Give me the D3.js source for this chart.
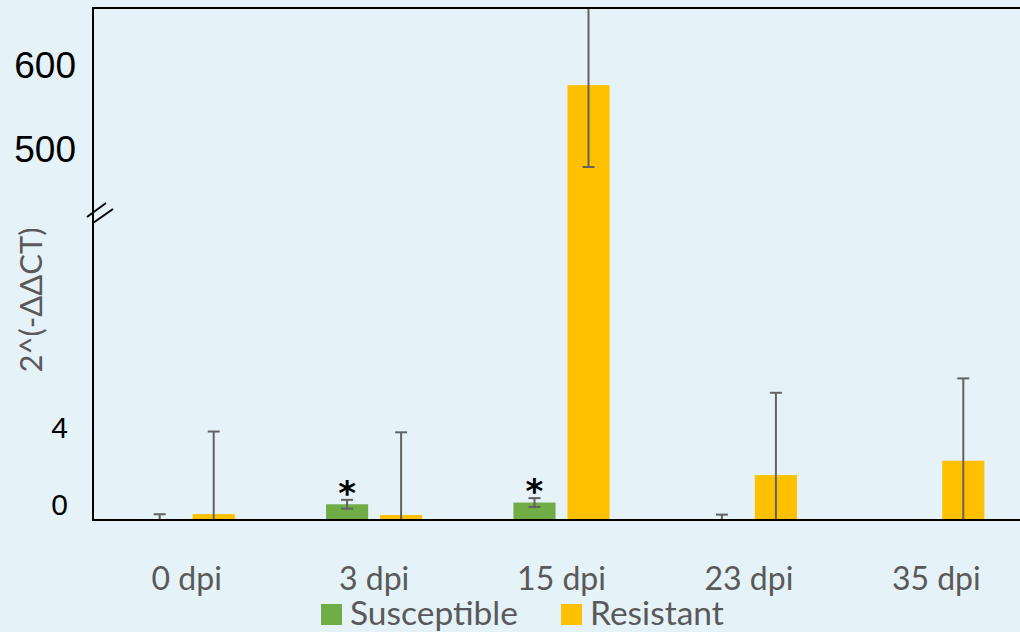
<!DOCTYPE html>
<html>
<head>
<meta charset="utf-8">
<script src="https://cdn.jsdelivr.net/npm/d3@7/dist/d3.min.js"></script>
<style>
  html, body { margin: 0; padding: 0; background: #E5F2F7; }
  svg { display: block; }
</style>
</head>
<body>
<svg id="chart" width="1020" height="632"></svg>
<script>
// Relative expression 2^(-ΔΔCT) by days post inoculation
const categories = ["0 dpi", "3 dpi", "15 dpi", "23 dpi", "35 dpi"];
const seriesNames = ["Susceptible", "Resistant"];
const susceptible = [0.04, 0.82, 0.91, 0.04, 0];
const susceptibleErr = [0.26, 0.23, 0.23, 0.24, 0];
const resistant = [0.31, 0.26, 595.6, 2.34, 3.09];
const resistantErr = [4.3, 4.31, 98, 4.29, 4.29];
const significant = [false, true, true, false, false];
const yTicks = [0, 4, 500, 600];
const yTitle = "2^(-ΔΔCT)";

const colors = { Susceptible: "#70AD47", Resistant: "#FFC000" };

const svg = d3.select("#chart");
const W = 1020, H = 632;
const plotLeft = 93, plotTop = 8, plotBottom = 520, plotRight = 1030, breakY = 213;

svg.append("rect").attr("width", W).attr("height", H).attr("fill", "#E5F2F7");

// Broken value axis: low segment 0–16, high segment 442.5–688
const y = d3.scaleLinear()
  .domain([0, 16, 442.5, 688])
  .range([plotBottom, breakY, breakY, plotTop]);

const x0 = d3.scaleBand().domain(categories).range([plotLeft, plotRight]);
const x1 = d3.scaleBand().domain(seriesNames)
  .range([0, x0.bandwidth()])
  .paddingInner(0.22).paddingOuter(0.845);

const rows = categories.map((c, i) => ({
  cat: c,
  sig: significant[i],
  vals: [
    { s: "Susceptible", v: susceptible[i], e: susceptibleErr[i] },
    { s: "Resistant", v: resistant[i], e: resistantErr[i] }
  ]
}));

svg.append("clipPath").attr("id", "plotClip")
  .append("rect").attr("x", plotLeft).attr("y", plotTop)
  .attr("width", plotRight - plotLeft).attr("height", plotBottom - plotTop);

const plot = svg.append("g").attr("clip-path", "url(#plotClip)");

const groups = plot.selectAll("g.cat").data(rows).join("g")
  .attr("class", "cat")
  .attr("transform", d => `translate(${x0(d.cat)},0)`);

groups.selectAll("rect").data(d => d.vals).join("rect")
  .attr("x", d => x1(d.s))
  .attr("width", x1.bandwidth())
  .attr("y", d => y(d.v))
  .attr("height", d => y(0) - y(d.v))
  .attr("fill", d => colors[d.s]);

// Error bars (±), clipped to the plot area
const capHalf = 6;
const cx = d => x1(d.s) + x1.bandwidth() / 2;
const eb = groups.selectAll("g.err").data(d => d.vals.filter(v => v.e > 0)).join("g")
  .attr("class", "err")
  .attr("stroke", "#626262").attr("stroke-width", 2);
eb.append("line")
  .attr("x1", cx).attr("x2", cx)
  .attr("y1", d => y(Math.max(0, d.v - d.e)))
  .attr("y2", d => y(d.v + d.e));
eb.append("line")
  .attr("x1", d => cx(d) - capHalf).attr("x2", d => cx(d) + capHalf)
  .attr("y1", d => y(d.v + d.e)).attr("y2", d => y(d.v + d.e));
eb.filter(d => d.v - d.e >= 0).append("line")
  .attr("x1", d => cx(d) - capHalf).attr("x2", d => cx(d) + capHalf)
  .attr("y1", d => y(d.v - d.e)).attr("y2", d => y(d.v - d.e));

// Significance markers over the susceptible bars
groups.filter(d => d.sig).append("text")
  .attr("x", x1("Susceptible") + x1.bandwidth() / 2)
  .attr("y", d => y(d.vals[0].v + d.vals[0].e) + 5)
  .attr("text-anchor", "middle")
  .attr("font-family", "DejaVu Sans")
  .attr("font-weight", "bold")
  .attr("font-size", 34)
  .attr("fill", "#000")
  .text("*");

// Axis frame
const frame = svg.append("g").attr("stroke", "#000").attr("stroke-width", 2).attr("fill", "none");
frame.append("line").attr("x1", plotLeft).attr("x2", W).attr("y1", plotTop).attr("y2", plotTop);
frame.append("line").attr("x1", plotLeft).attr("x2", plotLeft).attr("y1", plotTop - 1).attr("y2", plotBottom + 1);
frame.append("line").attr("x1", plotLeft).attr("x2", W).attr("y1", plotBottom).attr("y2", plotBottom);

// Break marker on the value axis
const brk = svg.append("g").attr("stroke", "#000").attr("stroke-width", 2);
brk.append("line").attr("x1", plotLeft - 6).attr("y1", breakY + 4).attr("x2", plotLeft + 13).attr("y2", breakY - 10);
brk.append("line").attr("x1", plotLeft).attr("y1", breakY + 10).attr("x2", plotLeft + 20).attr("y2", breakY - 4);

// Value axis labels
const yAxis = svg.append("g")
  .attr("transform", `translate(${plotLeft},0)`)
  .call(d3.axisLeft(y).tickValues(yTicks).tickSize(0).tickPadding(0));
yAxis.select(".domain").remove();
yAxis.selectAll("text")
  .attr("font-family", "Liberation Sans, Arial, sans-serif")
  .attr("fill", "#000")
  .attr("dy", null)
  .attr("dominant-baseline", "central")
  .attr("y", -16)
  .attr("font-size", d => d >= 100 ? 37 : 30)
  .attr("x", d => d >= 100 ? -17 : -25);

// Axis title
svg.append("text")
  .attr("transform", "translate(30,300) rotate(-90)")
  .attr("text-anchor", "middle")
  .attr("dominant-baseline", "central")
  .attr("font-family", "Lato, sans-serif")
  .attr("font-size", 31)
  .attr("fill", "#595959")
  .text(yTitle);

// Category labels
const xAxis = svg.append("g")
  .attr("transform", `translate(0,${plotBottom})`)
  .call(d3.axisBottom(x0).tickSize(0).tickPadding(0));
xAxis.select(".domain").remove();
xAxis.selectAll("text")
  .attr("dy", null)
  .attr("y", 70)
  .attr("font-family", "Lato, sans-serif")
  .attr("font-size", 32)
  .attr("fill", "#595959");

// Legend
const legendItems = [
  { s: seriesNames[0], x: 321 },
  { s: seriesNames[1], x: 561 }
];
const lg = svg.append("g").selectAll("g").data(legendItems).join("g")
  .attr("transform", d => `translate(${d.x},604)`);
lg.append("rect").attr("width", 21).attr("height", 21).attr("fill", d => colors[d.s]);
lg.append("text")
  .attr("x", 29).attr("y", 21)
  .attr("font-family", "Lato, sans-serif")
  .attr("font-size", 33.5)
  .attr("fill", "#595959")
  .text(d => d.s);
</script>
</body>
</html>
